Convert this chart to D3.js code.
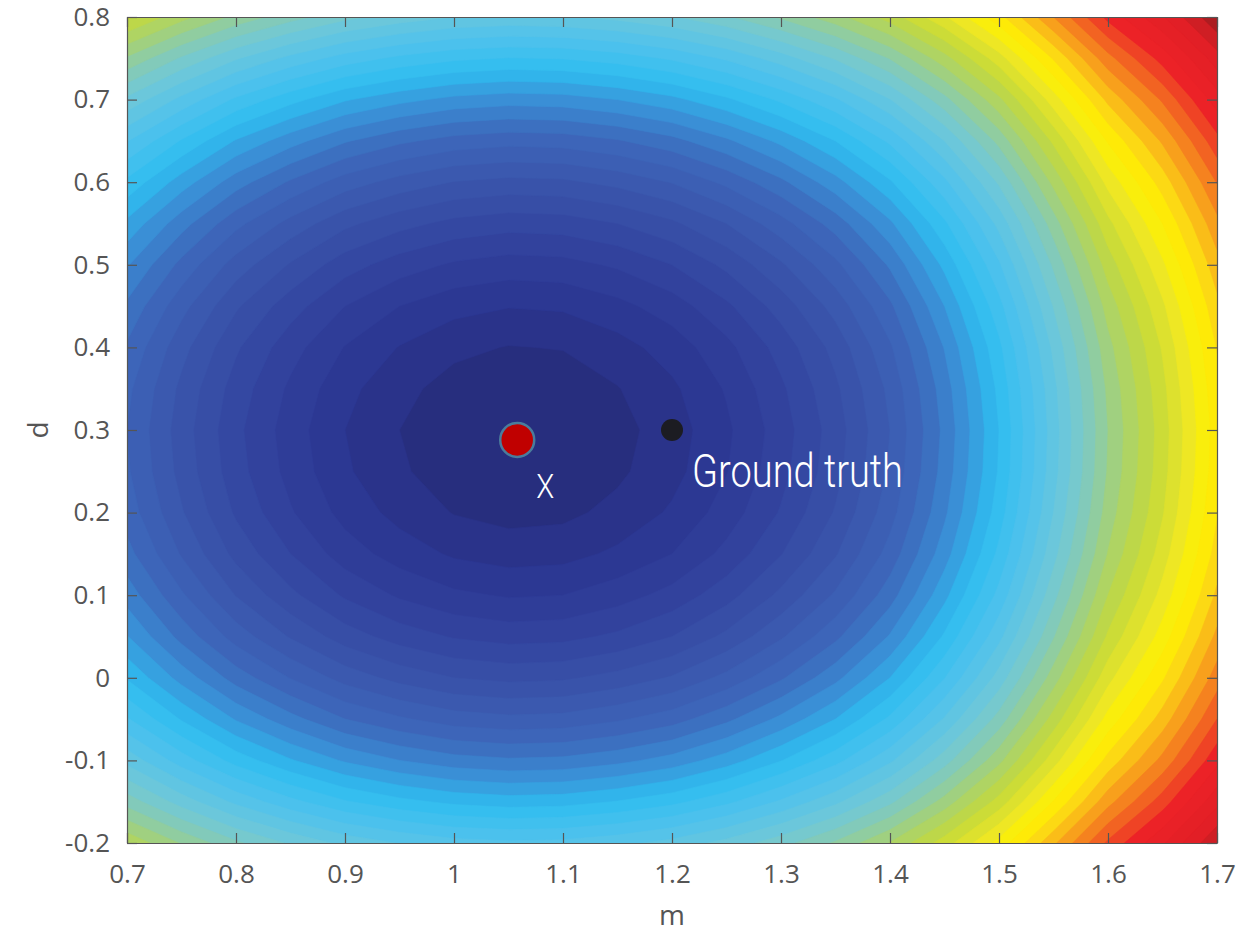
<!DOCTYPE html>
<html>
<head>
<meta charset="utf-8">
<script src="https://cdn.jsdelivr.net/npm/d3@7"></script>
<style>
  body { margin: 0; background: #fff; }
  svg text { font-family: 'Open Sans', sans-serif; }
</style>
</head>
<body>
<div id="chart"></div>
<script>
// grid positions (m across, d down from the top row)
const mGrid = [0.7, 0.75, 0.8, 0.85, 0.9, 0.95, 1.0, 1.05, 1.1, 1.15, 1.2, 1.25, 1.3, 1.35, 1.4, 1.45, 1.5, 1.55, 1.6, 1.65, 1.7]
const dGrid = [0.8, 0.75, 0.7, 0.65, 0.6, 0.55, 0.5, 0.45, 0.4, 0.35, 0.3, 0.25, 0.2, 0.15, 0.1, 0.05, 0, -0.05, -0.1, -0.15, -0.2]

// cost surface, one row per d value
const costRows = [
  [56.4, 52.7, 49.4, 46.8, 44.6, 43.1, 42.0, 41.6, 41.8, 42.6, 43.8, 45.7, 48.3, 51.2, 54.9, 59.7, 65.3, 72.0, 78.6, 83.8, 89.7],
  [49.7, 45.7, 42.2, 39.4, 37.1, 35.5, 34.4, 33.9, 34.1, 34.9, 36.3, 38.3, 41.0, 44.2, 48.1, 53.2, 59.1, 66.2, 73.3, 78.8, 85.1],
  [43.5, 39.4, 35.6, 32.7, 30.2, 28.6, 27.4, 26.9, 27.1, 28.0, 29.4, 31.6, 34.4, 37.7, 41.9, 47.3, 53.5, 61.0, 68.5, 74.3, 81.0],
  [38.1, 33.8, 29.8, 26.8, 24.2, 22.4, 21.2, 20.7, 20.9, 21.8, 23.3, 25.6, 28.5, 32.0, 36.4, 42.0, 48.6, 56.4, 64.2, 70.3, 77.3],
  [33.5, 29.0, 24.9, 21.7, 19.0, 17.2, 15.9, 15.4, 15.6, 16.6, 18.1, 20.5, 23.5, 27.2, 31.7, 37.5, 44.3, 52.5, 60.6, 66.9, 74.1],
  [29.5, 24.8, 20.6, 17.3, 14.5, 12.7, 11.4, 10.8, 11.0, 12.0, 13.6, 16.0, 19.2, 22.9, 27.6, 33.6, 40.6, 49.0, 57.4, 64.0, 71.4],
  [26.2, 21.4, 17.1, 13.8, 10.9, 9.0, 7.7, 7.1, 7.3, 8.3, 10.0, 12.5, 15.7, 19.5, 24.3, 30.5, 37.7, 46.3, 54.9, 61.6, 69.2],
  [23.6, 18.7, 14.3, 10.9, 8.0, 6.0, 4.7, 4.1, 4.3, 5.4, 7.0, 9.6, 12.9, 16.8, 21.6, 28.0, 35.3, 44.1, 52.8, 59.6, 67.4],
  [21.7, 16.7, 12.3, 8.8, 5.9, 3.9, 2.5, 1.9, 2.1, 3.2, 4.9, 7.4, 10.8, 14.7, 19.7, 26.1, 33.5, 42.4, 51.3, 58.2, 66.1],
  [20.5, 15.5, 11.1, 7.6, 4.6, 2.6, 1.2, 0.6, 0.8, 1.9, 3.6, 6.2, 9.6, 13.6, 18.5, 25.0, 32.5, 41.4, 50.4, 57.4, 65.4],
  [20.0, 15.0, 10.5, 7.0, 4.0, 2.0, 0.6, 0.0, 0.2, 1.3, 3.0, 5.6, 9.0, 13.0, 18.0, 24.5, 32.0, 41.0, 50.0, 57.0, 65.0],
  [20.3, 15.3, 10.8, 7.3, 4.3, 2.3, 0.9, 0.3, 0.5, 1.6, 3.3, 5.9, 9.3, 13.3, 18.3, 24.8, 32.2, 41.2, 50.2, 57.2, 65.2],
  [21.1, 16.2, 11.7, 8.2, 5.3, 3.3, 1.9, 1.3, 1.5, 2.6, 4.3, 6.9, 10.2, 14.2, 19.2, 25.6, 33.0, 42.0, 50.9, 57.8, 65.8],
  [22.7, 17.8, 13.4, 10.0, 7.0, 5.1, 3.7, 3.1, 3.3, 4.4, 6.0, 8.6, 11.9, 15.8, 20.8, 27.1, 34.5, 43.3, 52.1, 59.0, 66.8],
  [25.1, 20.3, 15.9, 12.5, 9.7, 7.7, 6.4, 5.8, 6.0, 7.1, 8.7, 11.2, 14.5, 18.3, 23.1, 29.4, 36.6, 45.3, 54.0, 60.7, 68.4],
  [28.1, 23.3, 19.1, 15.8, 13.0, 11.1, 9.8, 9.2, 9.4, 10.4, 12.0, 14.5, 17.7, 21.5, 26.2, 32.3, 39.4, 47.8, 56.3, 62.9, 70.5],
  [31.8, 27.2, 23.1, 19.9, 17.2, 15.3, 14.0, 13.5, 13.7, 14.7, 16.2, 18.6, 21.7, 25.4, 30.0, 35.9, 42.8, 51.0, 59.3, 65.7, 73.0],
  [36.2, 31.8, 27.8, 24.7, 22.0, 20.3, 19.0, 18.5, 18.7, 19.7, 21.1, 23.5, 26.5, 30.0, 34.4, 40.2, 46.8, 54.8, 62.7, 68.9, 76.0],
  [41.3, 37.0, 33.2, 30.2, 27.7, 26.0, 24.8, 24.3, 24.5, 25.4, 26.8, 29.0, 31.9, 35.3, 39.6, 45.1, 51.4, 59.1, 66.7, 72.6, 79.4],
  [47.1, 43.1, 39.5, 36.6, 34.2, 32.6, 31.5, 31.0, 31.2, 32.1, 33.4, 35.5, 38.3, 41.5, 45.5, 50.8, 56.8, 64.1, 71.3, 77.0, 83.4],
  [53.6, 49.8, 46.4, 43.7, 41.4, 39.9, 38.8, 38.4, 38.6, 39.4, 40.7, 42.7, 45.2, 48.3, 52.1, 57.0, 62.7, 69.6, 76.4, 81.7, 87.8]
]

const estimate = { m: 1.058, d: 0.288, label: 'X' }
const truth = { m: 1.2, d: 0.3, label: 'Ground truth' }

const mTicks = [0.7, 0.8, 0.9, 1, 1.1, 1.2, 1.3, 1.4, 1.5, 1.6, 1.7]
const mTickLabels = ['0.7', '0.8', '0.9', '1', '1.1', '1.2', '1.3', '1.4', '1.5', '1.6', '1.7']
const dTicks = [-0.2, -0.1, 0, 0.1, 0.2, 0.3, 0.4, 0.5, 0.6, 0.7, 0.8]
const dTickLabels = ['-0.2', '-0.1', '0', '0.1', '0.2', '0.3', '0.4', '0.5', '0.6', '0.7', '0.8']

// colour ramp (jet-like, as printed)
const colorStops = [0, 4, 10, 16, 22, 27, 32, 38, 44, 48, 52, 56, 61, 64, 67, 71, 75, 79, 86, 90, 93]
const colorHex = ['#262b78', '#2b3590', '#3345a0', '#3a56ac', '#3d68bb', '#3a8fd6', '#2fbdf0', '#50c2ec',
  '#70c8d8', '#88cbb0', '#a8d270', '#c4d93c', '#eee724', '#fff200', '#fcd914', '#f8a01c', '#f26322',
  '#ec2227', '#e01f26', '#9a1c1f', '#5c1a1a']
const contourLevels = d3.range(-2, 94, 2)

const margin = { top: 17, right: 19, bottom: 92, left: 127 }
const width = 1236 - margin.left - margin.right
const height = 935 - margin.top - margin.bottom

const svg = d3
  .select('#chart')
  .append('svg')
  .attr('width', width + margin.left + margin.right)
  .attr('height', height + margin.top + margin.bottom)
  .append('g')
  .attr('transform', 'translate(' + margin.left + ',' + margin.top + ')')

const xPositionScale = d3.scaleLinear().domain([0.7, 1.7]).range([0, width])
const yPositionScale = d3.scaleLinear().domain([-0.2, 0.8]).range([height, 0])
const colorScale = d3.scaleLinear().domain(colorStops).range(colorHex).clamp(true)

// grid cell coordinates -> pixels (d3.contours puts values at cell centres)
const colScale = d3.scaleLinear()
  .domain([0.5, mGrid.length - 0.5])
  .range([xPositionScale(mGrid[0]), xPositionScale(mGrid[mGrid.length - 1])])
const rowScale = d3.scaleLinear()
  .domain([0.5, dGrid.length - 0.5])
  .range([yPositionScale(dGrid[0]), yPositionScale(dGrid[dGrid.length - 1])])

const gridPath = d3.geoPath(d3.geoTransform({
  point: function (px, py) {
    this.stream.point(colScale(px), rowScale(py))
  }
}))

const contours = d3.contours()
  .size([mGrid.length, dGrid.length])
  .thresholds(contourLevels)(costRows.flat())

svg.append('clipPath')
  .attr('id', 'plot-clip')
  .append('rect')
  .attr('width', width)
  .attr('height', height)

svg.append('g')
  .attr('clip-path', 'url(#plot-clip)')
  .selectAll('path')
  .data(contours)
  .enter()
  .append('path')
  .attr('d', gridPath)
  .attr('fill', d => colorScale(d.value + 1))
  .attr('stroke', d => colorScale(d.value + 1))
  .attr('stroke-width', 0.6)

// AXES (ticks point inward on all four sides)
svg.append('g')
  .attr('class', 'axis x-axis')
  .attr('transform', 'translate(0,' + height + ')')
  .call(d3.axisBottom(xPositionScale).tickValues(mTicks)
    .tickFormat((d, i) => mTickLabels[i]).tickSize(-10).tickSizeOuter(0).tickPadding(22))

svg.append('g')
  .attr('class', 'axis y-axis')
  .call(d3.axisLeft(yPositionScale).tickValues(dTicks)
    .tickFormat((d, i) => dTickLabels[i]).tickSize(-10).tickSizeOuter(0).tickPadding(17))

svg.append('g')
  .attr('class', 'axis')
  .call(d3.axisTop(xPositionScale).tickValues(mTicks).tickFormat('').tickSize(-10).tickSizeOuter(0))

svg.append('g')
  .attr('class', 'axis')
  .attr('transform', 'translate(' + width + ',0)')
  .call(d3.axisRight(yPositionScale).tickValues(dTicks).tickFormat('').tickSize(-10).tickSizeOuter(0))

svg.selectAll('.axis path').attr('stroke', '#555').attr('stroke-width', 1.2)
svg.selectAll('.axis line').attr('stroke', '#555').attr('stroke-width', 1.2)
svg.selectAll('.axis text')
  .attr('fill', '#555')
  .style('font-size', '26px')
  .style('font-family', "'Open Sans', sans-serif")

svg.append('text')
  .attr('x', width / 2)
  .attr('y', height + 82)
  .attr('text-anchor', 'middle')
  .attr('fill', '#555')
  .style('font-size', '28px')
  .text('m')

svg.append('text')
  .attr('transform', 'translate(-79,' + height / 2 + ') rotate(-90)')
  .attr('text-anchor', 'middle')
  .attr('fill', '#555')
  .style('font-size', '28px')
  .text('d')

// MARKERS
svg.append('circle')
  .attr('cx', xPositionScale(truth.m))
  .attr('cy', yPositionScale(truth.d))
  .attr('r', 11)
  .attr('fill', '#1c1c22')

svg.append('circle')
  .attr('cx', xPositionScale(estimate.m))
  .attr('cy', yPositionScale(estimate.d))
  .attr('r', 17)
  .attr('fill', '#c00000')
  .attr('stroke', '#4a7c9c')
  .attr('stroke-width', 2.5)

svg.append('text')
  .attr('x', xPositionScale(estimate.m) + 19)
  .attr('y', yPositionScale(estimate.d) + 58)
  .attr('fill', '#fff')
  .attr('textLength', 18)
  .attr('lengthAdjust', 'spacingAndGlyphs')
  .style('font-family', 'Roboto, sans-serif')
  .style('font-weight', 300)
  .style('font-size', '34px')
  .text(estimate.label)

svg.append('text')
  .attr('x', xPositionScale(truth.m) + 20)
  .attr('y', yPositionScale(truth.d) + 57)
  .attr('fill', '#fff')
  .attr('textLength', 211)
  .attr('lengthAdjust', 'spacingAndGlyphs')
  .style('font-family', 'Roboto, sans-serif')
  .style('font-weight', 300)
  .style('font-size', '46px')
  .text(truth.label)
</script>
</body>
</html>
